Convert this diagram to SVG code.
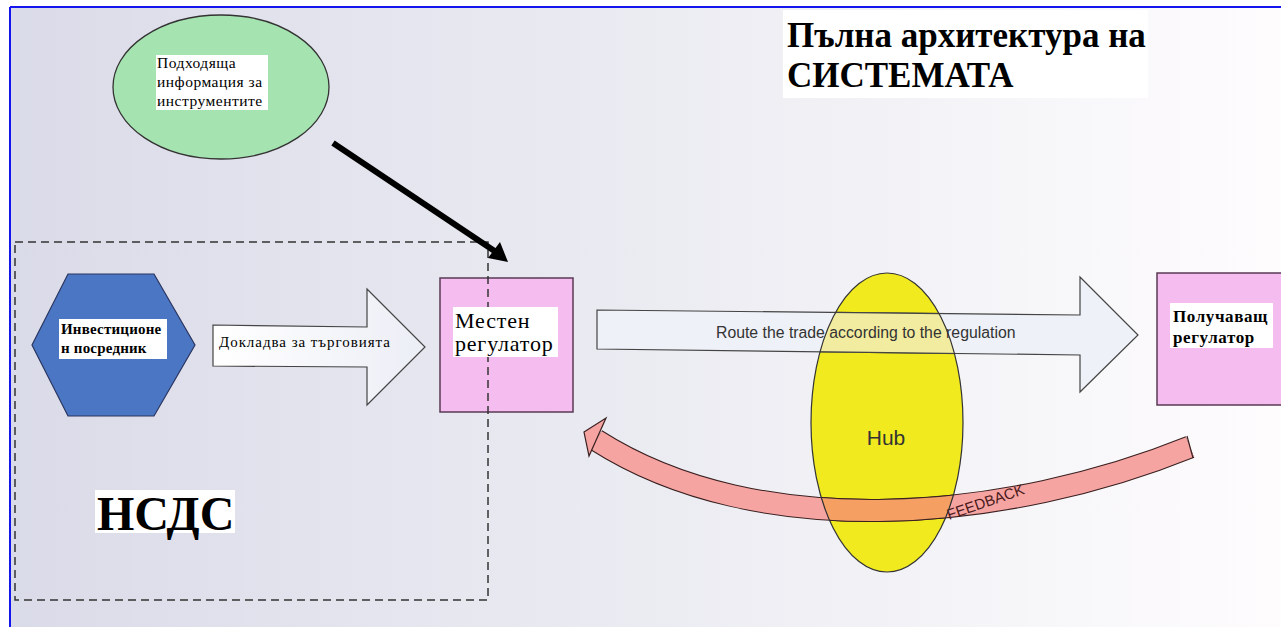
<svg xmlns="http://www.w3.org/2000/svg" width="1281" height="627" viewBox="0 0 1281 627">
<defs>
<linearGradient id="bg" x1="0" y1="0" x2="1" y2="0">
<stop offset="0" stop-color="#dadbe8"/>
<stop offset="0.5" stop-color="#ebecf2"/>
<stop offset="1" stop-color="#fefcfd"/>
</linearGradient>
<linearGradient id="wa" x1="0" y1="0" x2="1" y2="0">
<stop offset="0" stop-color="#ffffff"/>
<stop offset="1" stop-color="#eceef6"/>
</linearGradient>
<clipPath id="hubclip"><ellipse cx="887" cy="422.5" rx="76" ry="149.5"/></clipPath>
<path id="fbpath" d="M1190,447 C1010,520 760,545 596,440"/>
</defs>
<style>
.serif{font-family:"Liberation Serif","Times New Roman",serif;fill:#000}
.sans{font-family:"Liberation Sans",Arial,sans-serif}
.box{fill:#fff}
.pink{fill:#f5bcef;stroke:#5a3a55;stroke-width:1.5}
</style>
<rect x="0" y="0" width="1281" height="627" fill="#fff"/>
<rect x="10" y="7" width="1271" height="620" fill="url(#bg)"/>
<line x1="10" y1="7" x2="1281" y2="7" stroke="#1515ee" stroke-width="2"/>
<line x1="10" y1="7" x2="10" y2="627" stroke="#1515ee" stroke-width="2"/>

<g id="title">
<rect class="box" x="783" y="10" width="365" height="88"/>
<text class="serif" x="787" y="47" font-size="35" font-weight="bold">Пълна архитектура на</text>
<text class="serif" x="787" y="87" font-size="35" font-weight="bold">СИСТЕМАТА</text>
</g>

<g id="info">
<ellipse cx="221" cy="87" rx="108" ry="72" fill="#a5e3b0" stroke="#333" stroke-width="1.3"/>
<rect class="box" x="156" y="55" width="112" height="55"/>
<text class="serif" x="157" y="68" font-size="15.5" letter-spacing="0.5">Подходяща</text>
<text class="serif" x="157" y="87" font-size="15.5" letter-spacing="0.5">информация за</text>
<text class="serif" x="157" y="106" font-size="15.5" letter-spacing="0.5">инструментите</text>
</g>

<g id="investor">
<polygon points="32,345 68,274 154,274 195,345 154,416 68,416" fill="#4a76c4" stroke="#2a3560" stroke-width="1.2"/>
<rect class="box" x="59" y="319" width="108" height="40"/>
<text class="serif" x="61" y="334" font-size="15" font-weight="bold" letter-spacing="0.2">Инвестиционе</text>
<text class="serif" x="61" y="353" font-size="15" font-weight="bold" letter-spacing="0.2">н посредник</text>
</g>

<g id="local-regulator">
<rect class="pink" x="440" y="278" width="133" height="134"/>
</g>

<g id="nsds">
<rect x="15" y="242" width="473" height="358" fill="none" stroke="#333" stroke-width="1.5" stroke-dasharray="8,5"/>
<rect class="box" x="95" y="490" width="140" height="43"/>
<text class="serif" x="97" y="530" font-size="48" font-weight="bold">НСДС</text>
</g>

<g id="local-regulator-label">
<rect class="box" x="453" y="307" width="105" height="50"/>
<text class="serif" x="455" y="328" font-size="22" letter-spacing="0.8">Местен</text>
<text class="serif" x="455" y="351" font-size="22" letter-spacing="0.8">регулатор</text>
</g>

<g id="receiving-regulator">
<rect class="pink" x="1157" y="273" width="130" height="132"/>
<rect class="box" x="1170" y="303" width="103" height="45"/>
<text class="serif" x="1173" y="322" font-size="17" font-weight="bold" letter-spacing="0.6">Получаващ</text>
<text class="serif" x="1173" y="343" font-size="17" font-weight="bold" letter-spacing="0.6">регулатор</text>
</g>

<g id="hub">
<ellipse cx="887" cy="422.5" rx="76" ry="149.5" fill="#f0ea1e"/>
</g>

<g id="connectors">
<g id="info-arrow">
<line x1="333" y1="143" x2="496" y2="252" stroke="#000" stroke-width="6"/>
<polygon points="508,262 488,258 500,242" fill="#000"/>
</g>
<g id="report-arrow">
<polygon points="213,325 367,327 367,289 425,347 367,405 367,367 213,366" fill="url(#wa)" stroke="#444" stroke-width="1.2"/>
<text class="serif" x="219" y="347" font-size="15" letter-spacing="0.95">Докладва за търговията</text>
</g>
<g id="route-arrow">
<polygon points="597,310 1080,315 1080,277 1138,335 1080,392 1080,355 597,349" fill="#eef1f7" stroke="#444" stroke-width="1.2"/>
<polygon clip-path="url(#hubclip)" points="597,310 1080,315 1080,277 1138,335 1080,392 1080,355 597,349" fill="#f2eca0" stroke="#444" stroke-width="1.2"/>
<text class="sans" x="716" y="338" font-size="15.8" fill="#333">Route the trade according to the regulation</text>
</g>
<g id="feedback-arrow">
<use href="#fbpath" fill="none" stroke="#3a2020" stroke-width="23"/>
<use href="#fbpath" fill="none" stroke="#f6a4a2" stroke-width="21"/>
<g clip-path="url(#hubclip)">
<use href="#fbpath" fill="none" stroke="#3a2020" stroke-width="23"/>
<use href="#fbpath" fill="none" stroke="#f5a062" stroke-width="21"/>
</g>
<line x1="1187" y1="436" x2="1193" y2="458" stroke="#3a2020" stroke-width="1.2"/>
<polygon points="584,432 606,418 589,456" fill="#f6a4a2" stroke="#3a2020" stroke-width="1.2"/>
<text class="sans" x="949" y="520" font-size="15" fill="#4a1a1a" transform="rotate(-19 949 520)">FEEDBACK</text>
</g>
</g>

<g id="hub-outline">
<ellipse cx="887" cy="422.5" rx="76" ry="149.5" fill="none" stroke="#333" stroke-width="1.2"/>
<text class="sans" x="886" y="445" font-size="21" fill="#333" text-anchor="middle">Hub</text>
</g>
</svg>
